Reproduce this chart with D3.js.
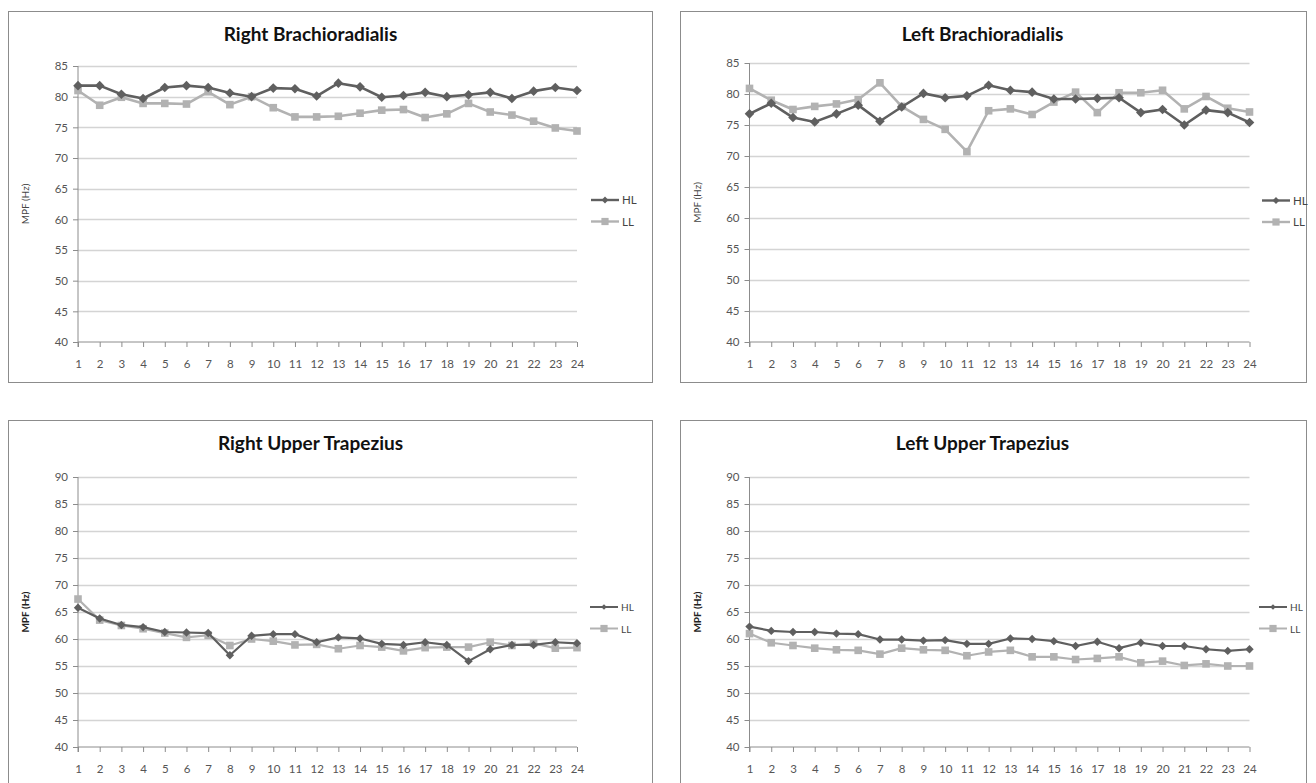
<!DOCTYPE html>
<html>
<head>
<meta charset="utf-8">
<script src="https://cdn.jsdelivr.net/npm/d3@7"></script>
<style>
  html, body { margin: 0; padding: 0; background: #fff; }
  svg { display: block; font-family: Lato, "Open Sans", sans-serif; }
</style>
</head>
<body>
<svg id="chart" width="1316" height="783"></svg>
<script>
// ---- data ----
const categories = d3.range(1, 25);
const seriesNames = ["HL", "LL"];

const titles = ["Right Brachioradialis", "Left Brachioradialis", "Right Upper Trapezius", "Left Upper Trapezius"];

const rightBrachioHL = [81.8, 81.8, 80.4, 79.7, 81.5, 81.8, 81.5, 80.6, 80.0, 81.4, 81.3, 80.1, 82.2, 81.6, 79.9, 80.2, 80.7, 80.0, 80.3, 80.7, 79.7, 80.9, 81.5, 81.0];
const rightBrachioLL = [81.0, 78.6, 79.9, 78.9, 78.9, 78.8, 80.8, 78.7, 80.0, 78.2, 76.7, 76.7, 76.8, 77.3, 77.8, 77.9, 76.6, 77.2, 78.9, 77.5, 77.0, 76.0, 74.9, 74.4];

const leftBrachioHL = [76.8, 78.5, 76.2, 75.5, 76.8, 78.2, 75.6, 77.9, 80.1, 79.4, 79.7, 81.4, 80.6, 80.3, 79.2, 79.2, 79.3, 79.4, 77.0, 77.5, 75.0, 77.4, 77.0, 75.4];
const leftBrachioLL = [80.9, 79.0, 77.5, 78.0, 78.4, 79.1, 81.8, 78.0, 75.9, 74.3, 70.7, 77.3, 77.6, 76.7, 78.7, 80.3, 77.0, 80.2, 80.2, 80.6, 77.6, 79.6, 77.7, 77.1];

const rightTrapHL = [65.8, 63.8, 62.6, 62.2, 61.3, 61.2, 61.1, 57.0, 60.6, 60.9, 60.9, 59.4, 60.3, 60.1, 59.1, 58.9, 59.4, 58.9, 55.9, 58.1, 58.9, 58.9, 59.4, 59.2];
const rightTrapLL = [67.4, 63.5, 62.5, 61.9, 61.1, 60.3, 60.7, 58.8, 60.0, 59.6, 58.9, 59.0, 58.2, 58.8, 58.5, 57.8, 58.4, 58.5, 58.5, 59.4, 58.8, 59.2, 58.3, 58.4];

const leftTrapHL = [62.3, 61.5, 61.3, 61.3, 61.0, 60.9, 59.9, 59.9, 59.7, 59.8, 59.1, 59.1, 60.1, 60.0, 59.6, 58.7, 59.5, 58.3, 59.3, 58.7, 58.7, 58.1, 57.8, 58.1];
const leftTrapLL = [61.0, 59.3, 58.8, 58.3, 58.0, 57.9, 57.2, 58.3, 58.0, 57.9, 56.9, 57.6, 57.9, 56.7, 56.7, 56.2, 56.4, 56.7, 55.6, 55.9, 55.1, 55.4, 55.0, 55.0];

const topTicks = [40, 45, 50, 55, 60, 65, 70, 75, 80, 85];
const bottomTicks = [40, 45, 50, 55, 60, 65, 70, 75, 80, 85, 90];
const yAxisTitle = "MPF (Hz)";

// ---- layout ----
const panels = [
  { title: titles[0], hl: rightBrachioHL, ll: rightBrachioLL, ticks: topTicks,
    frame: [8.5, 11.5, 644, 371], plot: { l: 78, r: 577, t: 66, b: 342 },
    legX: 591, legY: 200, small: false },
  { title: titles[1], hl: leftBrachioHL, ll: leftBrachioLL, ticks: topTicks,
    frame: [680.5, 11.5, 626, 371], plot: { l: 749.5, r: 1249.5, t: 63, b: 342 },
    legX: 1262, legY: 200.5, small: false },
  { title: titles[2], hl: rightTrapHL, ll: rightTrapLL, ticks: bottomTicks,
    frame: [8.5, 420.5, 644, 380], plot: { l: 78, r: 577, t: 477, b: 747 },
    legX: 590, legY: 607, small: true },
  { title: titles[3], hl: leftTrapHL, ll: leftTrapLL, ticks: bottomTicks,
    frame: [680.5, 420.5, 626, 380], plot: { l: 749.5, r: 1249.5, t: 477, b: 747 },
    legX: 1259, legY: 607, small: true }
];

const colHL = "#5f5f5f";
const colLL = "#b2b2b2";
const svg = d3.select("#chart");

function marker(g, type, x, y, color, size) {
  if (type === "HL") {
    g.append("path")
      .attr("d", `M${x},${y - size}L${x + size},${y}L${x},${y + size}L${x - size},${y}Z`)
      .attr("fill", color);
  } else {
    g.append("rect")
      .attr("x", x - size).attr("y", y - size)
      .attr("width", size * 2).attr("height", size * 2)
      .attr("fill", color);
  }
}

panels.forEach(p => {
  const g = svg.append("g");
  // frame
  g.append("rect")
    .attr("x", p.frame[0]).attr("y", p.frame[1])
    .attr("width", p.frame[2]).attr("height", p.frame[3])
    .attr("fill", "#fff").attr("stroke", "#8c8c8c").attr("stroke-width", 1);

  const x = d3.scalePoint().domain(categories).range([p.plot.l, p.plot.r]);
  const y = d3.scaleLinear().domain([40, d3.max(p.ticks)]).range([p.plot.b, p.plot.t]);

  // gridlines
  g.append("g").selectAll("line").data(p.ticks.filter(t => t > 40)).join("line")
    .attr("x1", p.plot.l).attr("x2", p.plot.r)
    .attr("y1", d => Math.round(y(d)) + 0.5).attr("y2", d => Math.round(y(d)) + 0.5)
    .attr("stroke", "#d4d4d4").attr("stroke-width", 1.3);

  // y axis
  const yAxis = d3.axisLeft(y).tickValues(p.ticks).tickSize(5).tickPadding(5);
  const ya = g.append("g").attr("transform", `translate(${p.plot.l},0)`).call(yAxis);
  ya.select(".domain").attr("stroke", "#8c8c8c").attr("d", `M0,${p.plot.t}V${p.plot.b + 5}`);
  ya.selectAll(".tick line").attr("stroke", "#8c8c8c");
  ya.selectAll("text").attr("fill", "#555").style("font-size", "11.5px").style("font-family", "Lato, sans-serif");

  // x axis
  const xAxis = d3.axisBottom(x).tickSize(5).tickPadding(13);
  const xa = g.append("g").attr("transform", `translate(0,${p.plot.b})`).call(xAxis);
  xa.select(".domain").attr("stroke", "#8c8c8c").attr("d", `M${p.plot.l},0H${p.plot.r}`);
  xa.selectAll(".tick line").attr("stroke", "#8c8c8c");
  xa.selectAll("text").attr("fill", "#555").style("font-size", "11.5px").style("font-family", "Lato, sans-serif");

  // title
  g.append("text")
    .attr("x", p.frame[0] + 302).attr("y", p.frame[1] + 29)
    .attr("text-anchor", "middle")
    .style("font-size", "19px").style("font-weight", "bold").attr("fill", "#111")
    .text(p.title);

  // y axis title
  const ymid = (p.plot.t + p.plot.b) / 2;
  g.append("text")
    .attr("transform", `translate(${p.frame[0] + 20},${ymid}) rotate(-90)`)
    .attr("text-anchor", "middle")
    .style("font-size", "10px")
    .style("font-weight", p.small ? "bold" : "normal")
    .attr("fill", p.small ? "#222" : "#444")
    .text(yAxisTitle);

  // series
  const lw = p.small ? 2.2 : 2.6;
  const line = d3.line().x((d, i) => x(categories[i])).y(d => y(d));
  [["LL", p.ll, colLL], ["HL", p.hl, colHL]].forEach(([name, vals, col]) => {
    g.append("path").datum(vals).attr("d", line)
      .attr("fill", "none").attr("stroke", col).attr("stroke-width", lw)
      .attr("stroke-linejoin", "round");
    const mg = g.append("g");
    vals.forEach((v, i) => marker(mg, name, x(categories[i]), y(v), col, name === "HL" ? (p.small ? 4.2 : 4.8) : 3.8));
  });

  // legend
  seriesNames.forEach((name, i) => {
    const col = name === "HL" ? colHL : colLL;
    const ly = p.legY + i * 21.5;
    g.append("line").attr("x1", p.legX).attr("x2", p.legX + 28)
      .attr("y1", ly).attr("y2", ly).attr("stroke", col).attr("stroke-width", p.small ? 2 : 2.4);
    marker(g, name, p.legX + 14, ly, col, name === "HL" ? (p.small ? 2.8 : 3.4) : 3.6);
    g.append("text").attr("x", p.legX + 31).attr("y", ly + 4)
      .style("font-size", p.small ? "10px" : "11.5px").attr("fill", "#444")
      .text(name);
  });
});
</script>
</body>
</html>
